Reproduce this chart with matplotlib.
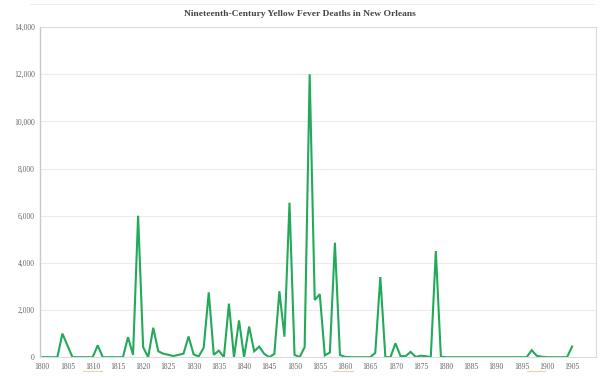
import matplotlib.pyplot as plt
from matplotlib.ticker import FuncFormatter

# deaths per year
years = list(range(1800, 1906))
deaths = [
    0, 0, 0, 0, 1000, 500, 0, 0, 0, 0,            # 1800-1809
    0, 500, 0, 0, 0, 0, 0, 850, 100, 6000,        # 1810-1819
    425, 0, 1250, 250, 150, 100, 50, 100, 150, 880,   # 1820-1829
    120, 30, 400, 2750, 100, 280, 0, 2270, 0, 1560,   # 1830-1839
    0, 1300, 250, 450, 140, 0, 140, 2800, 870, 6550,  # 1840-1849
    100, 0, 425, 12000, 2425, 2670, 74, 200, 4855, 92,  # 1850-1859
    15, 0, 0, 0, 0, 0, 185, 3400, 0, 0,           # 1860-1869
    590, 50, 40, 226, 11, 62, 42, 1, 4500, 19,    # 1870-1879
    0, 0, 0, 0, 0, 0, 0, 0, 0, 0,                 # 1880-1889
    0, 0, 0, 0, 0, 0, 0, 298, 60, 20,             # 1890-1899
    0, 0, 0, 0, 0, 452,                           # 1900-1905
]
xticks = list(range(1800, 1906, 5))
yticks = list(range(0, 14001, 2000))

title = "Nineteenth-Century Yellow Fever Deaths in New Orleans"
serif = ["Liberation Serif", "DejaVu Serif"]

fig = plt.figure(figsize=(6, 3.76), dpi=100)
ax = fig.add_axes([0.067, 0.05, 0.926, 0.878])

ax.plot(years, deaths, color="#22a95a", linewidth=1.5, solid_joinstyle="miter")

ax.set_xlim(1799.6, 1909.7)
ax.set_ylim(0, 14000)
ax.set_xticks(xticks)
ax.set_yticks(yticks)
ax.yaxis.set_major_formatter(FuncFormatter(lambda v, p: f"{int(v):,}"))
ax.tick_params(length=0, labelsize=5.5, labelcolor="#666666", pad=4)
for lab in ax.get_xticklabels() + ax.get_yticklabels():
    lab.set_family(serif)

ax.grid(axis="y", color="#ececec", linewidth=0.8)
ax.set_axisbelow(True)
for side in ["top", "right", "bottom"]:
    ax.spines[side].set_color("#dcdcdc")
    ax.spines[side].set_linewidth(0.8)
ax.spines["left"].set_color("#c8c8c8")
ax.spines["left"].set_linewidth(1.0)

fig.text(0.5, 0.963, title, ha="center", va="center", fontsize=6.8,
         fontweight="bold", color="#444444", family=serif)

# faint outer border line at the top of the screenshot
fig.add_artist(plt.Line2D([0.05, 0.99], [0.99, 0.99], color="#eeeeee", linewidth=0.8))

# faint yellow underlines below a few year labels, as in the screenshot
for x0, x1 in [(83, 102), (333, 353), (527, 545)]:
    fig.add_artist(plt.Line2D([x0 / 600, x1 / 600], [1 - 371 / 376] * 2,
                              color="#e2d9a0", linewidth=0.8))

fig.savefig("out.png", dpi=100, facecolor="white")
